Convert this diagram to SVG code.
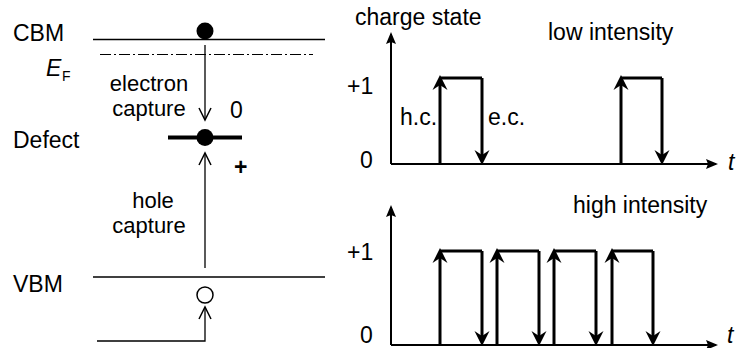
<svg xmlns="http://www.w3.org/2000/svg" width="743" height="348" viewBox="0 0 743 348">
<style>
text{font-family:"Liberation Sans",Arial,sans-serif;font-size:23px;fill:#000}
.it{font-style:italic}
.mid{text-anchor:middle;font-size:22px}
.thin{stroke:#000;stroke-width:1.3;fill:none}
.lvl{stroke:#000;stroke-width:1.6;fill:none}
.pulse{stroke:#000;stroke-width:3;fill:none}
.axis{stroke:#000;stroke-width:2;fill:none}
</style>
<defs>
<marker id="ah" markerUnits="userSpaceOnUse" markerWidth="20" markerHeight="20" viewBox="-12 -8 20 16" refX="0" refY="0" orient="auto">
<path d="M4,0 L-11,-7.5 L-6,0 L-11,7.5 Z" fill="#000"/>
</marker>
<marker id="ax" markerUnits="userSpaceOnUse" markerWidth="20" markerHeight="20" viewBox="-12 -8 20 16" refX="0" refY="0" orient="auto">
<path d="M2,0 L-10,-5 L-8,0 L-10,5 Z" fill="#000"/>
</marker>
<marker id="open" markerUnits="userSpaceOnUse" markerWidth="20" markerHeight="20" viewBox="-14 -8 20 16" refX="0" refY="0" orient="auto">
<path d="M-12,-6 L0,0 L-12,6" fill="none" stroke="#000" stroke-width="1.5"/>
</marker>
</defs>

<g id="cbm">
<line class="lvl" x1="93" y1="39.5" x2="325" y2="39.5"/>
<circle cx="205" cy="31" r="8.5" fill="#000"/>
<text x="13" y="41">CBM</text>
</g>
<g id="ef">
<line x1="100" y1="54.5" x2="313" y2="54.5" stroke="#000" stroke-width="1" stroke-dasharray="11,3,2,3"/>
<text class="it" x="46" y="76">E</text>
<text x="62" y="81" style="font-size:14px">F</text>
</g>
<g id="defect">
<line x1="168" y1="137.5" x2="242" y2="137.5" stroke="#000" stroke-width="4"/>
<circle cx="205" cy="137.5" r="8.5" fill="#000"/>
<text x="13" y="148">Defect</text>
<text x="230" y="118">0</text>
<text x="234" y="175" style="font-weight:bold">+</text>
</g>
<g id="vbm">
<line class="lvl" x1="93" y1="277" x2="325" y2="277"/>
<circle cx="205" cy="295" r="8" fill="none" stroke="#000" stroke-width="1.5"/>
<text x="13" y="292">VBM</text>
</g>
<g id="labels-left">
<text class="mid" x="149" y="91">electron</text>
<text class="mid" x="149" y="116">capture</text>
<text class="mid" x="153" y="208">hole</text>
<text class="mid" x="149" y="233">capture</text>
</g>

<g id="plot-low">
<line class="axis" x1="391" y1="164" x2="391" y2="34" marker-end="url(#ax)"/>
<line class="axis" x1="391" y1="164" x2="716" y2="164" marker-end="url(#ax)"/>
<text x="355" y="25">charge state</text>
<text x="548" y="40">low intensity</text>
<text x="347" y="94">+1</text>
<text x="360" y="168">0</text>
<text class="it" x="728" y="170">t</text>
<text x="400" y="125">h.c.</text>
<text x="488" y="125">e.c.</text>
</g>
<g id="plot-high">
<line class="axis" x1="391" y1="345" x2="391" y2="207" marker-end="url(#ax)"/>
<line class="axis" x1="391" y1="345" x2="716" y2="345" marker-end="url(#ax)"/>
<text x="573" y="213">high intensity</text>
<text x="347" y="260">+1</text>
<text x="360" y="343">0</text>
<text class="it" x="727" y="343">t</text>
</g>

<g id="connectors">
<line class="thin" x1="205" y1="45" x2="205" y2="120" marker-end="url(#open)"/>
<line class="thin" x1="205" y1="268" x2="205" y2="153" marker-end="url(#open)"/>
<path class="thin" d="M97,341 H205 V307" marker-end="url(#open)"/>

<line class="pulse" x1="440" y1="164" x2="440" y2="79" marker-end="url(#ah)"/>
<line class="pulse" x1="440" y1="78" x2="482" y2="78"/>
<line class="pulse" x1="482" y1="78" x2="482" y2="161" marker-end="url(#ah)"/>
<line class="pulse" x1="621" y1="164" x2="621" y2="79" marker-end="url(#ah)"/>
<line class="pulse" x1="621" y1="78" x2="662" y2="78"/>
<line class="pulse" x1="662" y1="78" x2="662" y2="161" marker-end="url(#ah)"/>

<line class="pulse" x1="440" y1="345" x2="440" y2="252" marker-end="url(#ah)"/>
<line class="pulse" x1="440" y1="251" x2="482" y2="251"/>
<line class="pulse" x1="482" y1="251" x2="482" y2="342" marker-end="url(#ah)"/>
<line class="pulse" x1="497" y1="345" x2="497" y2="252" marker-end="url(#ah)"/>
<line class="pulse" x1="497" y1="251" x2="539" y2="251"/>
<line class="pulse" x1="539" y1="251" x2="539" y2="342" marker-end="url(#ah)"/>
<line class="pulse" x1="554" y1="345" x2="554" y2="252" marker-end="url(#ah)"/>
<line class="pulse" x1="554" y1="251" x2="596" y2="251"/>
<line class="pulse" x1="596" y1="251" x2="596" y2="342" marker-end="url(#ah)"/>
<line class="pulse" x1="612" y1="345" x2="612" y2="252" marker-end="url(#ah)"/>
<line class="pulse" x1="612" y1="251" x2="653" y2="251"/>
<line class="pulse" x1="653" y1="251" x2="653" y2="342" marker-end="url(#ah)"/>
</g>
</svg>
